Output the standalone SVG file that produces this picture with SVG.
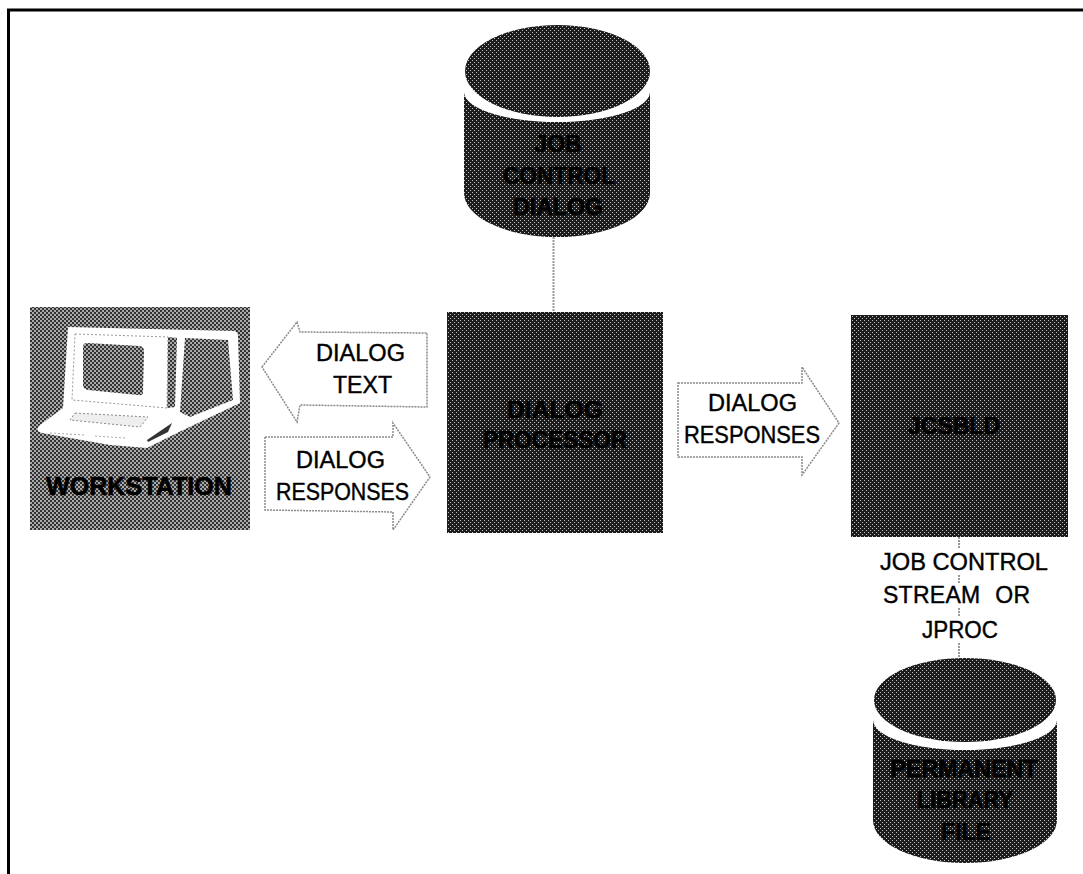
<svg xmlns="http://www.w3.org/2000/svg" width="1083" height="874" viewBox="0 0 1083 874">
<style>
.lbl{font-family:"Liberation Sans",Arial,sans-serif;font-size:23px;fill:#000;text-anchor:middle;stroke:#000;stroke-width:.4}
.dk{font-family:"Liberation Sans",Arial,sans-serif;font-weight:bold;font-size:23px;fill:#000;text-anchor:middle;stroke:#000;stroke-width:.6}
.arrow{fill:#fff;stroke:#8a8a8a;stroke-width:1.5;stroke-dasharray:2 1}
.link{stroke:#9a9a9a;stroke-width:2;stroke-dasharray:2 1;fill:none}
.dark{fill:url(#ht)}
</style>
<defs>
<pattern id="ht" width="4" height="4" patternUnits="userSpaceOnUse">
<rect width="4" height="4" fill="#1c1c1c"/>
<rect x="0" y="0" width="1" height="1" fill="#c4c4c4"/>
<rect x="2" y="2" width="1" height="1" fill="#c4c4c4"/>
</pattern>
<pattern id="mid" width="4" height="4" patternUnits="userSpaceOnUse">
<rect width="4" height="4" fill="#333"/>
<rect x="0" y="0" width="2" height="2" fill="#aaa"/>
<rect x="2" y="2" width="2" height="2" fill="#aaa"/>
</pattern>
</defs>
<rect width="1083" height="874" fill="#fff"/>
<path d="M8.500,874V10H1083" fill="none" stroke="#000" stroke-width="3"/>

<g id="connectors">
<path class="link" d="M553.500,237V313"/>
<path class="link" d="M959,537V549M959,575V583M959,608V616M959,643V660"/>
</g>

<g id="workstation">
<rect x="30" y="307" width="220" height="223" fill="url(#mid)"/>
<path d="M68,327 L234,331 Q238,332 238,336 L240,403 L177,433 L147,448 L110,445 L42,433 Q34,430 40,425 L63,408 Z" fill="#fff"/>
<path d="M87,343 L140,346 Q144,347 144,351 L143,392 Q143,396 138,395 L88,390 Q83,389 83,385 L83,347 Q83,343 87,343 Z" fill="url(#mid)"/>
<path d="M168,337 L177,338 L175,407 L167,408 Z" fill="url(#mid)"/>
<path d="M185,338 L228,340 L233,400 L190,417 L180,412 Z" fill="url(#mid)"/>
<path d="M75,334 L168,337 L167,408 L72,400 Z" fill="none" stroke="#999" stroke-width="1" stroke-dasharray="2 2"/>
<path d="M75,413 L148,417 L140,427 L70,420 Z" fill="#eee" stroke="#888" stroke-dasharray="2 2"/>
<path d="M147,440 L172,423 L168,432 L148,442 Z" fill="#333"/>
<path d="M50,433 L85,435 M95,436 L125,438" fill="none" stroke="#aaa" stroke-dasharray="2 2"/>
<text class="dk" x="139" y="495" style="font-size:25px" textLength="186" lengthAdjust="spacingAndGlyphs">WORKSTATION</text>
</g>

<g id="job-control-dialog">
<path class="dark" d="M464,92 V193 A93,44 0 0 0 650,193 V92 A93,30 0 0 1 464,92 Z"/>
<ellipse class="dark" cx="557.500" cy="71" rx="92.500" ry="46"/>
<text class="dk" x="558" y="152">JOB</text>
<text class="dk" x="559" y="184" textLength="112" lengthAdjust="spacingAndGlyphs">CONTROL</text>
<text class="dk" x="558" y="215" textLength="90" lengthAdjust="spacingAndGlyphs">DIALOG</text>
</g>

<g id="dialog-processor">
<rect class="dark" x="447" y="312" width="216" height="221"/>
<text class="dk" x="555" y="418" textLength="96" lengthAdjust="spacingAndGlyphs">DIALOG</text>
<text class="dk" x="555" y="448" textLength="144" lengthAdjust="spacingAndGlyphs">PROCESSOR</text>
</g>

<g id="jcsbld">
<rect class="dark" x="851" y="315" width="217" height="222"/>
<text class="dk" x="954" y="434">JCSBLD</text>
</g>

<g id="permanent-library-file">
<path class="dark" d="M873,720 V820 A92,43 0 0 0 1057,820 V720 A92,30 0 0 1 873,720 Z"/>
<ellipse class="dark" cx="965" cy="700" rx="91" ry="42"/>
<text class="dk" x="964" y="777" textLength="147" lengthAdjust="spacingAndGlyphs">PERMANENT</text>
<text class="dk" x="965" y="808" textLength="96" lengthAdjust="spacingAndGlyphs">LIBRARY</text>
<text class="dk" x="966" y="840">FILE</text>
</g>

<g id="arrow-dialog-text">
<path class="arrow" d="M262,367 L297,322 L300,332 L427,333 L427,407 L300,405 L297,422 Z"/>
<text class="lbl" x="360.500" y="361" textLength="89" lengthAdjust="spacingAndGlyphs">DIALOG</text>
<text class="lbl" x="362.500" y="393" textLength="59" lengthAdjust="spacingAndGlyphs">TEXT</text>
</g>

<g id="arrow-dialog-responses-left">
<path class="arrow" d="M265,437 L393,437 L393,423 L430,477 L393,530 L393,512 L265,510 Z"/>
<text class="lbl" x="340.500" y="468" textLength="89" lengthAdjust="spacingAndGlyphs">DIALOG</text>
<text class="lbl" x="342.500" y="500" textLength="133" lengthAdjust="spacingAndGlyphs">RESPONSES</text>
</g>

<g id="arrow-dialog-responses-right">
<path class="arrow" d="M678,383 L802,383 L802,367 L839,423 L802,475 L802,457 L678,457 Z"/>
<text class="lbl" x="752.500" y="411" textLength="89" lengthAdjust="spacingAndGlyphs">DIALOG</text>
<text class="lbl" x="752" y="443" textLength="136" lengthAdjust="spacingAndGlyphs">RESPONSES</text>
</g>

<g id="label-job-control-stream">
<text class="lbl" x="964" y="570" textLength="168" lengthAdjust="spacingAndGlyphs">JOB CONTROL</text>
<text class="lbl" x="956.500" y="603" textLength="147" lengthAdjust="spacing" word-spacing="8">STREAM OR</text>
<text class="lbl" x="960" y="638" textLength="76" lengthAdjust="spacingAndGlyphs">JPROC</text>
</g>
</svg>
